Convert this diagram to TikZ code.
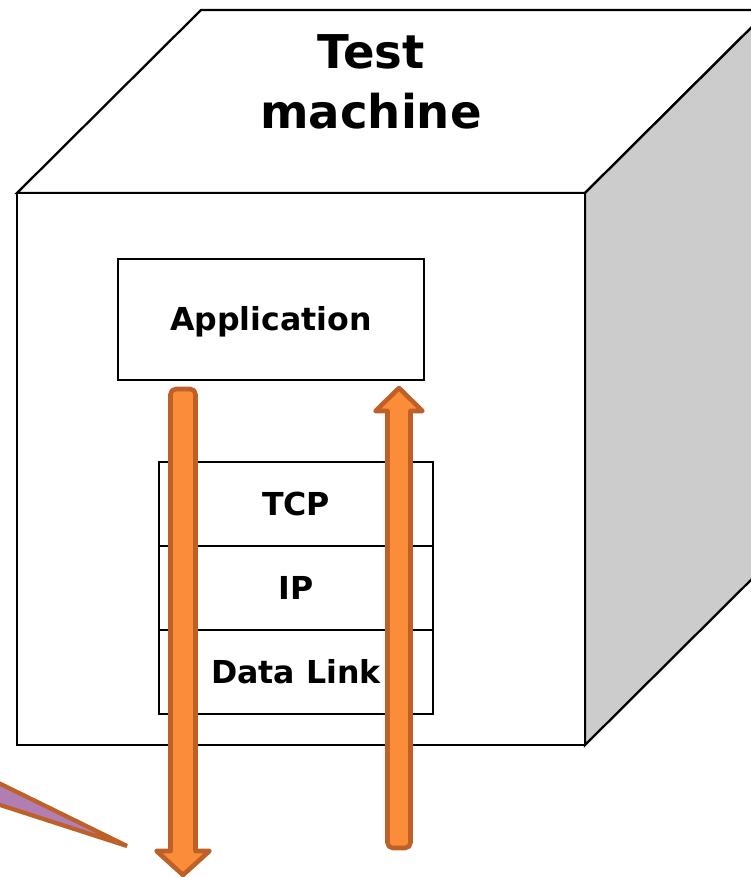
\documentclass[tikz,border=0pt]{standalone}
\usepackage{fontspec}
\setmainfont{DejaVu Sans}
\usetikzlibrary{positioning}
\definecolor{arrowfill}{RGB}{250,140,58}
\definecolor{arrowedge}{RGB}{190,96,40}
\definecolor{sidegray}{RGB}{204,204,204}
\definecolor{callfill}{RGB}{176,126,178}

\begin{document}
\begin{tikzpicture}[x=0.02cm,y=-0.02cm]
\tikzstyle{every node}+=[inner sep=0pt, outer sep=0pt]
\tikzstyle{layer}=[draw, line width=0.9pt, minimum width=5.48cm, minimum height=1.68cm,
  text height=13pt, text depth=0pt, font=\bfseries\fontsize{18}{22}\selectfont]
\tikzstyle{flow}=[draw=arrowedge, fill=arrowfill, line width=2.6pt, line join=round]
\useasboundingbox (0,0) rectangle (751,877);
\clip (0,0) rectangle (751,877);
\draw [line width=1.3pt, fill=white] (17,193) -- (201,10) -- (769,10) -- (585,193) -- cycle;
\draw [line width=1.3pt, fill=sidegray] (585,193) -- (769,10) -- (769,562) -- (585,745) -- cycle;
\draw [line width=1.3pt, fill=white] (17,193) rectangle (585,745);
\node [font=\bfseries\fontsize{26.5}{34}\selectfont, align=center] (title) at (371,82) {Test\\machine};
\node [layer, minimum width=6.12cm, minimum height=2.42cm] (app) at (271,319.5) {Application};
\node [layer] (tcp) at (296,504) {TCP};
\node [layer, below=0pt of tcp] (ip) {IP};
\node [layer, below=0pt of ip] (link) {Data Link};
\coordinate (downtail) at (183,389);
\coordinate (downtip) at (183,875);
\coordinate (uptail) at (399,848);
\coordinate (uptip) at (399,388);
\draw [flow] (downtip) -- (156.5,851) -- (170.5,851) [rounded corners=3pt] -- (170.5,389) -- (195.5,389) [sharp corners] -- (195.5,851) -- (209.5,851) -- cycle;
\draw [flow] (uptip) -- (375.5,411) -- (387.5,411) [rounded corners=3pt] -- (387.5,848) -- (410.5,848) [sharp corners] -- (410.5,411) -- (422.5,411) -- cycle;
\coordinate (calltip) at (127,846);
\draw [draw=arrowedge, fill=callfill, line width=2.4pt, line join=miter] (-40,764) -- (calltip) -- (-40,792) -- cycle;
\end{tikzpicture}
\end{document}
